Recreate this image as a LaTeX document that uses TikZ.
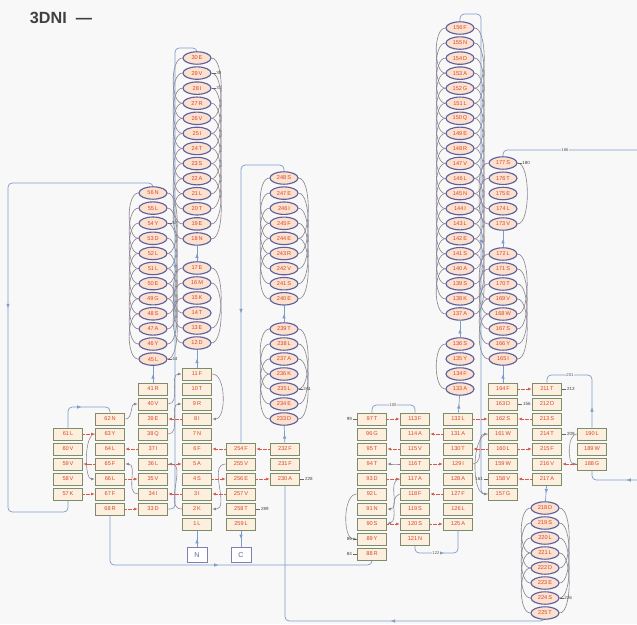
\documentclass[tikz,border=0pt]{standalone}
\usepackage{fontspec}
\setmainfont{Liberation Sans}
\usepackage{xcolor}
\usepackage{tikz}
\usetikzlibrary{arrows.meta,positioning,shapes.geometric,decorations.markings}
\pgfdeclarelayer{paper}
\pgfdeclarelayer{back}
\pgfsetlayers{paper,back,main}
\definecolor{helline}{HTML}{5F5F9E}
\definecolor{helfill}{HTML}{FBE1CE}
\definecolor{strline}{HTML}{7E8C6A}
\definecolor{strfill}{HTML}{FCEFDD}
\definecolor{resred}{HTML}{D8452C}
\definecolor{loopblue}{HTML}{7C9CCB}
\definecolor{arcgray}{HTML}{8C8590}
\definecolor{hbred}{HTML}{D9584A}
\definecolor{bggray}{HTML}{F8F8F8}

\begin{document}
\begin{tikzpicture}[
    x=0.025cm,y=-0.025cm,
    hel/.style={ellipse,draw=helline,line width=0.8pt,fill=helfill,text=resred,minimum width=0.7cm,minimum height=0.31cm,inner sep=0pt,font=\fontsize{4}{4.5}\selectfont},
    strnd/.style={rectangle,draw=strline,line width=0.7pt,fill=strfill,text=resred,minimum width=0.74cm,minimum height=0.3cm,inner sep=0pt,font=\fontsize{4}{4.5}\selectfont},
    termbox/.style={rectangle,draw=helline!80,line width=0.6pt,fill=white,text=helline,minimum width=0.5cm,minimum height=0.36cm,inner sep=0pt,font=\fontsize{5}{6}\selectfont},
    loopln/.style={draw=loopblue,line width=0.5pt,rounded corners=3pt},
    midarr/.style={postaction={decorate},decoration={markings,mark=at position #1 with {\arrow{Latex[length=1.1mm,width=0.9mm]}}}},
    midarr/.default=0.5,
    hxarc/.style={draw=arcgray,line width=0.45pt},
    hbar/.style={draw=hbred,line width=0.4pt,dash pattern=on 1.2pt off 0.6pt,-{Latex[length=0.9mm,width=0.7mm]}},
    hbcurve/.style={draw=arcgray,line width=0.4pt,-{Latex[length=0.9mm,width=0.7mm]}},
    anntext/.style={font=\fontsize{3.2}{4}\selectfont,text=black!75,inner sep=0.5pt},
    annln/.style={draw=black!60,line width=0.3pt},
    lbltext/.style={font=\fontsize{3}{4}\selectfont,text=black!65,fill=bggray,inner sep=0.5pt}
]
\begin{pgfonlayer}{paper}
\fill[bggray] (0,0) rectangle (637,624);
\end{pgfonlayer}
\useasboundingbox (0,0) rectangle (637,624);
\node[anchor=west,font=\fontsize{11.5}{12}\selectfont\bfseries,text=black!75] (title) at (25,18) {3DNI\ \ —};

% left sheet and helices
\foreach \r/\a [count=\i from 0] in {56/N,55/L,54/Y,53/D,52/L,51/L,50/E,49/G,48/S,47/A,46/Y,45/L}
    \node[hel] (r\r) at (153,{193+15.1*\i}) {\r\,\a};
\foreach \r/\a [count=\i from 0] in {30/E,29/V,28/I,27/R,26/V,25/I,24/T,23/S,22/A,21/L,20/T,19/E,18/N}
    \node[hel] (r\r) at (197,{58+15.08*\i}) {\r\,\a};
\foreach \r/\a [count=\i from 0] in {17/E,16/M,15/K,14/T,13/E,12/D}
    \node[hel] (r\r) at (197,{268+15*\i}) {\r\,\a};
\foreach \r/\a [count=\i from 0] in {11/F,10/T,9/R,8/I,7/N,6/F,5/A,4/S,3/I,2/K,1/L}
    \node[strnd] (r\r) at (197,{374+15*\i}) {\r\,\a};
\foreach \r/\a [count=\i from 0] in {41/R,40/V,39/E,38/Q,37/I,36/L,35/V,34/I,33/D}
    \node[strnd] (r\r) at (153,{389+15*\i}) {\r\,\a};
\foreach \r/\a [count=\i from 0] in {61/L,60/V,59/V,58/V,57/K}
    \node[strnd] (r\r) at (68,{434+15*\i}) {\r\,\a};
\foreach \r/\a [count=\i from 0] in {62/N,63/Y,64/L,65/F,66/L,67/F,68/R}
    \node[strnd] (r\r) at (110,{419+15*\i}) {\r\,\a};
\foreach \r/\a [count=\i from 0] in {254/F,255/V,256/E,257/V,258/T,259/L}
    \node[strnd] (r\r) at (241,{449+15*\i}) {\r\,\a};
\foreach \r/\a [count=\i from 0] in {232/F,231/F,230/A}
    \node[strnd] (r\r) at (285,{449+15*\i}) {\r\,\a};
\foreach \r/\a [count=\i from 0] in {239/T,238/L,237/A,236/K,235/L,234/E,233/D}
    \node[hel] (r\r) at (284,{329+15*\i}) {\r\,\a};
\foreach \r/\a [count=\i from 0] in {248/S,247/E,246/I,245/F,244/E,243/R,242/V,241/S,240/E}
    \node[hel] (r\r) at (284,{178+15.1*\i}) {\r\,\a};
\node[termbox] (nterm) at (197,555) {N};
\node[termbox] (cterm) at (241,555) {C};

% right sheet and helices
\foreach \r/\a [count=\i from 0] in {97/T,96/G,95/T,94/T,93/D,92/L,91/N,90/S,89/Y,88/R}
    \node[strnd] (r\r) at (372,{419+15*\i}) {\r\,\a};
\foreach \r/\a [count=\i from 0] in {113/F,114/A,115/V,116/T,117/A,118/F,119/S,120/S,121/N}
    \node[strnd] (r\r) at (415,{419+15*\i}) {\r\,\a};
\foreach \r/\a [count=\i from 0] in {132/L,131/A,130/T,129/I,128/A,127/F,126/L,125/A}
    \node[strnd] (r\r) at (458,{419+15*\i}) {\r\,\a};
\foreach \r/\a [count=\i from 0] in {136/S,135/Y,134/F,133/A}
    \node[hel] (r\r) at (460,{344+15*\i}) {\r\,\a};
\foreach \r/\a [count=\i from 0] in {156/F,155/N,154/D,153/A,152/G,151/L,150/Q,149/E,148/R,147/V,146/L,145/N,144/I,143/L,142/E,141/S,140/A,139/S,138/K,137/A}
    \node[hel] (r\r) at (460,{28+15.05*\i}) {\r\,\a};
\foreach \r/\a [count=\i from 0] in {164/F,163/D,162/S,161/W,160/L,159/W,158/V,157/G}
    \node[strnd] (r\r) at (503,{389+15*\i}) {\r\,\a};
\foreach \r/\a [count=\i from 0] in {172/L,171/S,170/T,169/V,168/W,167/S,166/Y,165/I}
    \node[hel] (r\r) at (503,{254+15*\i}) {\r\,\a};
\foreach \r/\a [count=\i from 0] in {177/S,176/T,175/E,174/L,173/V}
    \node[hel] (r\r) at (503,{163+15.25*\i}) {\r\,\a};
\foreach \r/\a [count=\i from 0] in {211/T,212/D,213/S,214/T,215/F,216/V,217/A}
    \node[strnd] (r\r) at (547,{389+15*\i}) {\r\,\a};
\foreach \r/\a [count=\i from 0] in {190/L,189/W,188/G}
    \node[strnd] (r\r) at (592,{434+15*\i}) {\r\,\a};
\foreach \r/\a [count=\i from 0] in {218/D,219/S,220/L,221/L,222/D,223/E,224/S,225/T}
    \node[hel] (r\r) at (545,{508+15*\i}) {\r\,\a};
\coordinate (edgeT) at (637,150);
\coordinate (edgeB) at (637,480);

\begin{pgfonlayer}{back}
% helix turns
\foreach \lo/\hi in {45/56,12/17,18/30,233/239,240/248,133/136,137/156,165/172,173/177,218/225}{
  \foreach \r in {\lo,...,\hi}{
    \pgfmathtruncatemacro\hpa{\r+3}
    \pgfmathtruncatemacro\hpb{\r+4}
    \ifnum\hpa>\hi\relax\else
      \draw[hxarc] (r\r.west) to[out=180,in=180,looseness=0.7] (r\hpa.west);
    \fi
    \ifnum\hpb>\hi\relax\else
      \draw[hxarc] (r\r.east) to[out=0,in=0,looseness=0.55] (r\hpb.east);
    \fi
  }
}
% chain
\draw[loopln,midarr] (nterm) -- (r1);
\draw[loopln,midarr] (r11) -- (r12);
\draw[loopln,midarr] (r17) -- (r18);
\draw[loopln,midarr] (r30.north) -- (197,48) -- (175,48) |- (r33.east);
\draw[loopln,midarr] (r41) -- (r45);
\draw[loopln,midarr] (r56.north) |- (8,183) |- (68,512) -- (r57.south);
\draw[loopln,midarr] (r61.north) |- (89,407) -| (r62.north);
\draw[loopln,midarr] (r68.south) |- (240,565) -| (r88.south);
\draw[loopln,midarr] (r97.north) |- (393,405) -| (r113.north);
\draw[loopln,midarr] (r121.south) |- (436,553) -| (r125.south);
\draw[loopln,midarr] (r132) -- (r133);
\draw[loopln,midarr] (r136) -- (r137);
\draw[loopln,midarr] (r156.north) |- (481,14) |- (r157.west);
\draw[loopln,midarr] (r164) -- (r165);
\draw[loopln,midarr] (r172) -- (r173);
\draw[loopln,midarr] (r177.north) |- (edgeT);
\draw[loopln,midarr=0.2] (edgeB) -| (r188.south);
\draw[loopln,midarr=0.2] (r190.north) |- (570,375) -| (r211.north);
\draw[loopln,midarr] (r217) -- (r218);
\draw[loopln,midarr=0.4] (r225.south) |- (400,621) -| (r230.south);
\draw[loopln,midarr] (r232) -- (r233);
\draw[loopln,midarr] (r239) -- (r240);
\draw[loopln,midarr=0.6] (r248.north) |- (260,165) -| (r254.north);
\draw[loopln,midarr] (r259) -- (cterm);
\end{pgfonlayer}

\node[lbltext] (l100) at (393,405) {100};
\node[lbltext] (l122) at (436,553) {122};
\node[lbltext] (l186) at (565,150) {186};
\node[lbltext] (l201) at (570,375) {201};

% h-bonds
\draw[hbar] (r61.east) -- (r63.west);
\draw[hbar] (r65.west) -- (r59.east);
\draw[hbar] (r57.east) -- (r67.west);
\draw[hbar] (r37.west) -- (r64.east);
\draw[hbar] (r66.east) -- (r35.west);
\draw[hbar] (r68.east) -- (r33.west);
\draw[hbar] (r8.west) -- (r39.east);
\draw[hbar] (r36.east) -- (r5.west);
\draw[hbar] (r3.west) -- (r34.east);
\draw[hbar] (r254.west) -- (r6.east);
\draw[hbar] (r4.east) -- (r256.west);
\draw[hbar] (r257.west) -- (r3.east);
\draw[hbar] (r232.west) -- (r254.east);
\draw[hbar] (r256.east) -- (r230.west);
\draw[hbar] (r97.east) -- (r113.west);
\draw[hbar] (r115.west) -- (r95.east);
\draw[hbar] (r93.east) -- (r117.west);
\draw[hbar] (r90.east) -- (r120.west);
\draw[hbar] (r131.west) -- (r114.east);
\draw[hbar] (r116.east) -- (r129.west);
\draw[hbar] (r127.west) -- (r118.east);
\draw[hbar] (r120.east) -- (r125.west);
\draw[hbar] (r132.east) -- (r162.west);
\draw[hbar] (r160.west) -- (r130.east);
\draw[hbar] (r164.east) -- (r211.west);
\draw[hbar] (r213.west) -- (r162.east);
\draw[hbar] (r160.east) -- (r215.west);
\draw[hbar] (r217.west) -- (r158.east);
\draw[hbar] (r188.west) -- (r216.east);

\begin{pgfonlayer}{back}
\draw[hbcurve] (r62.east) to[out=0,in=180] (r40.west);
\draw[hbcurve] (r63.west) to[out=180,in=180,looseness=0.6] (r66.west);
\draw[hbcurve] (r38.east) to[out=0,in=180] (r9.west);
\draw[hbcurve] (r40.east) to[out=0,in=180] (r11.west);
\draw[hbcurve] (r2.west) to[out=180,in=0] (r36.east);
\draw[hbcurve] (r34.west) to[out=180,in=0] (r65.east);
\draw[hbcurve] (r11.east) to[out=0,in=0,looseness=0.8] (r8.east);
\draw[hbcurve] (r255.west) to[out=180,in=0] (r2.east);
\draw[hbcurve] (r92.west) to[out=180,in=180,looseness=0.8] (r89.west);
\draw[hbcurve] (r117.west) to[out=180,in=0] (r91.east);
\draw[hbcurve] (r118.west) to[out=200,in=20] (r90.east);
\draw[hbcurve] (r116.west) to[out=180,in=0] (r94.east);
\draw[hbcurve] (r129.east) to[out=10,in=180] (r161.west);
\draw[hbcurve] (r161.west) to[out=180,in=180,looseness=0.7] (r157.west);
\draw[hbcurve] (r190.west) to[out=180,in=180,looseness=0.8] (r188.west);
\end{pgfonlayer}

% contact notes
\foreach \r/\nb in {29/38,28/31,54/57,45/44,258/289,230/228,235/241,163/156,177/180,211/213,214/209,224/226}
    \draw[annln] (r\r.east) -- ++(4,0) node[anntext,anchor=west] (a\r) {\nb};
\foreach \r/\nb in {97/99,89/86,88/84,158/161}
    \draw[annln] (r\r.west) -- ++(-4,0) node[anntext,anchor=east] (a\r) {\nb};
\end{tikzpicture}
\end{document}
